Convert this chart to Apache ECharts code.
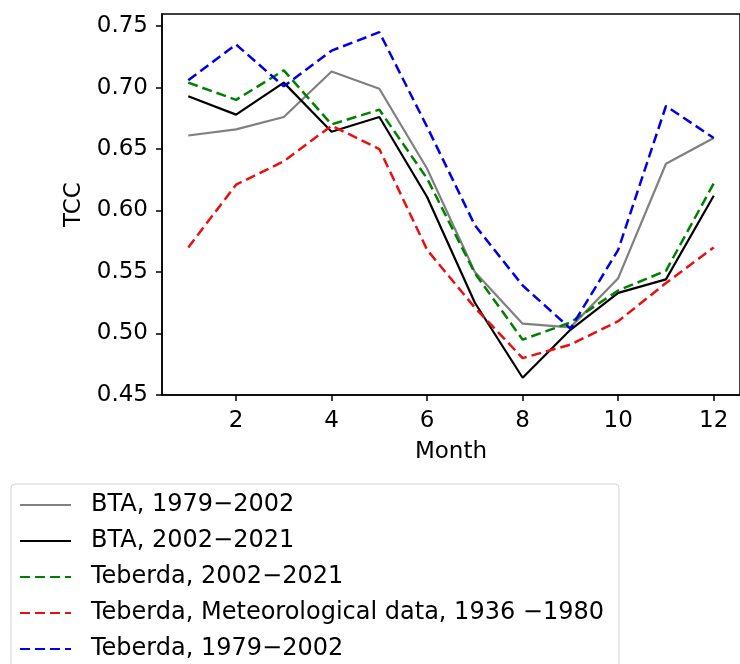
<!DOCTYPE html>
<html>
<head>
<meta charset="utf-8">
<script src="https://cdn.jsdelivr.net/npm/echarts@6/dist/echarts.min.js"></script>
<style>
  html, body { margin: 0; padding: 0; background: #fff; }
  #chart { width: 740px; height: 664px; }
</style>
</head>
<body>
<div id="chart"></div>
<script>
// monthly total cloud cover
const months = [1, 2, 3, 4, 5, 6, 7, 8, 9, 10, 11, 12]
const btaOld = [0.661, 0.666, 0.676, 0.713, 0.699, 0.634, 0.550, 0.508, 0.505, 0.545, 0.638, 0.659]
const btaNew = [0.693, 0.678, 0.704, 0.664, 0.676, 0.611, 0.525, 0.464, 0.503, 0.533, 0.544, 0.612]
const teberdaNew = [0.704, 0.690, 0.714, 0.670, 0.682, 0.626, 0.549, 0.495, 0.509, 0.535, 0.551, 0.622]
const teberdaMeteo = [0.570, 0.621, 0.640, 0.669, 0.650, 0.568, 0.521, 0.480, 0.491, 0.510, 0.541, 0.570]
const teberdaOld = [0.706, 0.735, 0.701, 0.730, 0.745, 0.668, 0.588, 0.539, 0.504, 0.568, 0.685, 0.659]

const xTicks = [2, 4, 6, 8, 10, 12]
const yTicks = [0.45, 0.50, 0.55, 0.60, 0.65, 0.70, 0.75]

const seriesDefs = [
  { name: 'BTA, 1979\u22122002', data: btaOld, color: '#808080', dash: 'solid', width: 2.2 },
  { name: 'BTA, 2002\u22122021', data: btaNew, color: '#000000', dash: 'solid', width: 2.2 },
  { name: 'Teberda, 2002\u22122021', data: teberdaNew, color: '#008000', dash: [10, 5], width: 2.5 },
  { name: 'Teberda, Meteorological data, 1936 \u22121980', data: teberdaMeteo, color: '#e81010', dash: [10, 5], width: 2.5 },
  { name: 'Teberda, 1979\u22122002', data: teberdaOld, color: '#0000e6', dash: [10, 5], width: 2.5 },
]

const font = 'DejaVu Sans'
const chart = echarts.init(document.getElementById('chart'), null, { renderer: 'canvas' })

chart.setOption({
  animation: false,
  backgroundColor: '#fff',
  textStyle: { fontFamily: font, color: '#000' },
  grid: {
    left: 162, top: 14, width: 587, height: 381,
    show: true, borderColor: '#000', borderWidth: 1.5, backgroundColor: 'transparent',
  },
  legend: {
    orient: 'vertical',
    left: 11, top: 484, height: 180,
    padding: [8, 15, 20, 8],
    itemWidth: 51, itemHeight: 14, itemGap: 10,
    backgroundColor: '#fff',
    borderColor: '#d4d4d4', borderWidth: 1, borderRadius: 4,
    itemStyle: { opacity: 0, borderWidth: 0 },
    textStyle: { fontFamily: font, fontSize: 24, color: '#000', lineHeight: 26, padding: [0, 0, 0, 15] },
    data: seriesDefs.map(s => s.name),
  },
  xAxis: {
    type: 'value',
    min: 0.45, max: 12.55,
    name: 'Month', nameLocation: 'middle', nameGap: 46,
    nameTextStyle: { fontFamily: font, fontSize: 23, color: '#000' },
    axisLine: { show: true, lineStyle: { color: '#000', width: 1.5 } },
    axisTick: { show: true, length: 6, inside: false, customValues: xTicks, lineStyle: { color: '#000', width: 1.5 } },
    axisLabel: { customValues: xTicks, fontFamily: font, fontSize: 23, color: '#000', margin: 15 },
    splitLine: { show: false },
  },
  yAxis: {
    type: 'value',
    min: 0.45, max: 0.7598,
    name: 'TCC', nameLocation: 'middle', nameGap: 72, nameRotate: 90,
    nameTextStyle: { fontFamily: font, fontSize: 23, color: '#000' },
    axisLine: { show: true, lineStyle: { color: '#000', width: 1.5 } },
    axisTick: { show: true, length: 6, inside: false, customValues: yTicks, lineStyle: { color: '#000', width: 1.5 } },
    axisLabel: {
      customValues: yTicks, fontFamily: font, fontSize: 23, color: '#000', margin: 14,
      formatter: v => v.toFixed(2),
    },
    splitLine: { show: false },
  },
  series: seriesDefs.map(s => ({
    name: s.name,
    type: 'line',
    data: months.map((m, i) => [m, s.data[i]]),
    symbol: 'none',
    showSymbol: false,
    color: s.color,
    itemStyle: { color: s.color },
    lineStyle: { color: s.color, width: s.width, type: s.dash },
  })),
})
</script>
</body>
</html>
